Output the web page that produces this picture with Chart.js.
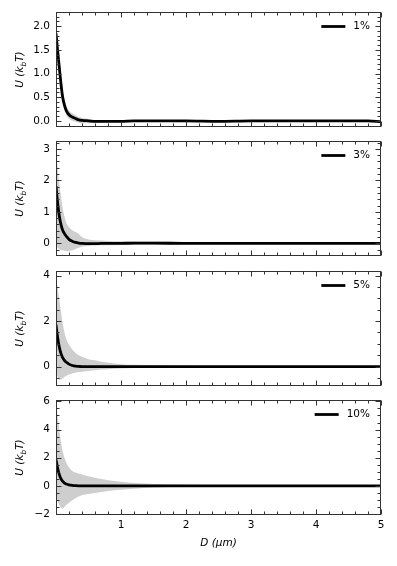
<!DOCTYPE html>
<html>
<head>
<meta charset="utf-8">
<script src="https://cdn.jsdelivr.net/npm/chart.js@4.4.1/dist/chart.umd.min.js"></script>
<style>
  html, body { margin: 0; padding: 0; background: #fff; }
  #wrap { position: relative; width: 397px; height: 566px; overflow: hidden; }
  #wrap canvas { position: absolute; left: 0; }
</style>
</head>
<body>
<div id="wrap"></div>
<script>
const distance = [0, 0.02, 0.04, 0.06, 0.08, 0.1, 0.13, 0.16, 0.2, 0.25, 0.3, 0.35, 0.4, 0.5, 0.6, 0.7, 0.8, 1.0, 1.2, 1.5, 2.0, 2.5, 3.0, 3.5, 4.0, 4.5, 4.8, 5.0];

const concentrations = ['1%', '3%', '5%', '10%'];

// 1%
const mean1  = [1.85, 1.55, 1.28, 1.00, 0.74, 0.52, 0.33, 0.21, 0.13, 0.08, 0.05, 0.02, 0.01, 0.0, -0.01, -0.01, -0.01, -0.01, 0.0, 0.0, 0.0, -0.01, 0.0, 0.0, 0.0, 0.0, 0.0, -0.02];
const upper1 = [2.0, 1.7, 1.43, 1.15, 0.89, 0.66, 0.45, 0.32, 0.22, 0.16, 0.12, 0.08, 0.06, 0.04, 0.02, 0.02, 0.01, 0.01, 0.01, 0.01, 0.01, 0.0, 0.01, 0.01, 0.01, 0.01, 0.02, 0.0];
const lower1 = [1.7, 1.4, 1.13, 0.85, 0.6, 0.4, 0.22, 0.12, 0.05, 0.0, -0.02, -0.04, -0.05, -0.05, -0.04, -0.04, -0.03, -0.02, -0.02, -0.01, -0.01, -0.02, -0.01, -0.01, -0.01, -0.01, -0.01, -0.03];

// 3%
const mean3  = [1.82, 1.38, 1.02, 0.76, 0.57, 0.43, 0.31, 0.22, 0.13, 0.07, 0.03, 0.01, 0.0, -0.01, -0.01, 0.0, 0.0, 0.0, 0.01, 0.01, 0.0, 0.0, 0.0, 0.0, 0.0, 0.0, 0.0, 0.0];
const upper3 = [2.9, 2.5, 2.1, 1.75, 1.45, 1.15, 0.85, 0.65, 0.52, 0.42, 0.36, 0.3, 0.2, 0.12, 0.1, 0.09, 0.08, 0.07, 0.06, 0.06, 0.04, 0.03, 0.02, 0.02, 0.02, 0.02, 0.02, 0.02];
const lower3 = [-0.05, -0.12, -0.17, -0.2, -0.21, -0.22, -0.23, -0.24, -0.24, -0.22, -0.18, -0.14, -0.11, -0.08, -0.07, -0.06, -0.06, -0.05, -0.04, -0.04, -0.03, -0.02, -0.02, -0.02, -0.02, -0.02, -0.02, -0.02];

// 5%
const mean5  = [1.84, 1.38, 1.02, 0.75, 0.55, 0.41, 0.28, 0.19, 0.11, 0.05, 0.02, 0.01, 0.0, 0.0, 0.0, 0.0, 0.0, 0.0, 0.0, 0.0, 0.0, 0.0, 0.0, 0.0, 0.0, 0.0, 0.0, 0.0];
const upper5 = [4.0, 3.55, 3.15, 2.75, 2.35, 1.95, 1.5, 1.2, 0.96, 0.75, 0.6, 0.5, 0.43, 0.33, 0.28, 0.22, 0.17, 0.11, 0.08, 0.06, 0.04, 0.03, 0.03, 0.02, 0.02, 0.02, 0.02, 0.02];
const lower5 = [-0.1, -0.4, -0.55, -0.58, -0.57, -0.52, -0.45, -0.4, -0.35, -0.3, -0.27, -0.24, -0.22, -0.19, -0.16, -0.13, -0.11, -0.08, -0.06, -0.05, -0.03, -0.03, -0.02, -0.02, -0.02, -0.02, -0.02, -0.02];

// 10%
const mean10  = [1.88, 1.38, 0.98, 0.69, 0.48, 0.33, 0.2, 0.13, 0.07, 0.03, 0.01, 0.0, 0.0, 0.0, 0.0, 0.0, 0.0, 0.0, 0.0, 0.0, 0.0, 0.0, 0.0, 0.0, 0.0, 0.0, 0.0, 0.0];
const upper10 = [6.05, 5.2, 4.4, 3.65, 3.0, 2.5, 2.0, 1.64, 1.3, 1.06, 0.95, 0.87, 0.8, 0.68, 0.58, 0.48, 0.4, 0.3, 0.2, 0.13, 0.08, 0.05, 0.04, 0.03, 0.03, 0.03, 0.02, 0.02];
const lower10 = [-0.4, -0.95, -1.25, -1.45, -1.57, -1.6, -1.5, -1.35, -1.2, -1.02, -0.88, -0.75, -0.67, -0.58, -0.5, -0.43, -0.37, -0.28, -0.2, -0.12, -0.07, -0.05, -0.04, -0.03, -0.03, -0.03, -0.02, -0.02];

// tick labels
const xTicks = [1, 2, 3, 4, 5];
const yTicks1 = [0, 0.5, 1, 1.5, 2];
const yTicks3 = [0, 1, 2, 3];
const yTicks5 = [0, 2, 4];
const yTicks10 = [-2, 0, 2, 4, 6];

const panels = [
  { label: concentrations[0], mean: mean1, upper: upper1, lower: lower1, ticks: yTicks1, min: -0.13, max: 2.3, minor: 0.1, dec: 1, top: 12 },
  { label: concentrations[1], mean: mean3, upper: upper3, lower: lower3, ticks: yTicks3, min: -0.4, max: 3.25, minor: 0.2, dec: 0, top: 141 },
  { label: concentrations[2], mean: mean5, upper: upper5, lower: lower5, ticks: yTicks5, min: -0.85, max: 4.2, minor: 0.5, dec: 0, top: 271 },
  { label: concentrations[3], mean: mean10, upper: upper10, lower: lower10, ticks: yTicks10, min: -2.07, max: 6.1, minor: 0.5, dec: 0, top: 400 }
];

const PANEL_H = 115, PAD_TOP = 8, XAXIS_H = 51;
const FONT = "'DejaVu Sans', sans-serif";
const FS = 10.5;

const frameTicks = {
  id: 'frameTicks',
  afterDatasetsDraw(chart, args, opts) {
    const { ctx, chartArea: a, scales: { x, y } } = chart;
    ctx.save();
    ctx.strokeStyle = '#333';
    ctx.lineWidth = 1;
    const L = Math.round(a.left) + 0.5, R = Math.round(a.right) - 0.5;
    const T = Math.round(a.top) + 0.5, B = Math.round(a.bottom) - 0.5;
    ctx.strokeRect(L, T, R - L, B - T);

    const tick = (px, len, vertical) => {
      px = Math.round(px) + 0.5;
      ctx.beginPath();
      if (vertical) {
        ctx.moveTo(px, T); ctx.lineTo(px, T + len);
        ctx.moveTo(px, B); ctx.lineTo(px, B - len);
      } else {
        ctx.moveTo(L, px); ctx.lineTo(L + len, px);
        ctx.moveTo(R, px); ctx.lineTo(R - len, px);
      }
      ctx.stroke();
    };
    // x ticks every 0.2, major every 1
    for (let k = 0; k <= 25; k++) {
      const v = k * 0.2;
      if (v > x.max + 1e-9) break;
      tick(x.getPixelForValue(v), k % 5 === 0 ? 5 : 3, true);
    }
    // y ticks
    const kmin = Math.ceil(y.min / opts.minor - 1e-9), kmax = Math.floor(y.max / opts.minor + 1e-9);
    for (let k = kmin; k <= kmax; k++) {
      const v = k * opts.minor;
      const major = opts.ticks.some(t => Math.abs(t - v) < 1e-6);
      tick(y.getPixelForValue(v), major ? 5 : 3, false);
    }

    // legend
    const ly = Math.round(a.top + 14) + 0.5;
    ctx.font = FS + 'px ' + FONT;
    ctx.fillStyle = '#000';
    ctx.textAlign = 'right';
    ctx.textBaseline = 'middle';
    const tx = a.right - 11;
    ctx.fillText(opts.label, tx, ly);
    const tw = ctx.measureText(opts.label).width;
    ctx.strokeStyle = '#000';
    ctx.lineWidth = 2.8;
    ctx.beginPath();
    ctx.moveTo(tx - tw - 32, ly);
    ctx.lineTo(tx - tw - 8, ly);
    ctx.stroke();

    // y title U (k_b T)
    ctx.save();
    ctx.translate(19, (a.top + a.bottom) / 2);
    ctx.rotate(-Math.PI / 2);
    ctx.textAlign = 'left';
    ctx.textBaseline = 'alphabetic';
    const big = 'italic ' + FS + 'px ' + FONT, small = 'italic ' + (FS * 0.7) + 'px ' + FONT;
    const parts = [['U (k', big, 0], ['b', small, 2.5], ['T)', big, 0]];
    let total = 0;
    parts.forEach(p => { ctx.font = p[1]; total += ctx.measureText(p[0]).width; });
    let cx = -total / 2;
    parts.forEach(p => { ctx.font = p[1]; ctx.fillText(p[0], cx, 4 + p[2]); cx += ctx.measureText(p[0]).width; });
    ctx.restore();

    if (opts.xTitle) {
      ctx.font = 'italic ' + FS + 'px ' + FONT;
      ctx.textAlign = 'center';
      ctx.textBaseline = 'middle';
      ctx.fillText(opts.xTitle, (a.left + a.right) / 2, a.bottom + 28);
    }
    ctx.restore();
  }
};

const wrap = document.getElementById('wrap');

panels.forEach((p, i) => {
  const last = i === panels.length - 1;
  const canvas = document.createElement('canvas');
  const h = PAD_TOP + PANEL_H + (last ? XAXIS_H : 0);
  canvas.width = 397;
  canvas.height = h;
  canvas.style.width = '397px';
  canvas.style.height = h + 'px';
  canvas.style.top = (p.top - PAD_TOP) + 'px';
  wrap.appendChild(canvas);

  const pts = arr => distance.map((d, j) => ({ x: d, y: arr[j] }));

  new Chart(canvas.getContext('2d'), {
    type: 'line',
    data: {
      datasets: [
        {
          label: p.label,
          data: pts(p.mean),
          borderColor: '#000',
          borderWidth: 2.8,
          pointRadius: 0,
          fill: false,
          cubicInterpolationMode: 'monotone'
        },
        {
          label: 'lower',
          data: pts(p.lower),
          borderWidth: 0,
          borderColor: 'rgba(0,0,0,0)',
          pointRadius: 0,
          fill: false,
          cubicInterpolationMode: 'monotone'
        },
        {
          label: 'upper',
          data: pts(p.upper),
          borderWidth: 0,
          borderColor: 'rgba(0,0,0,0)',
          backgroundColor: 'rgb(206,206,206)',
          pointRadius: 0,
          fill: 1,
          cubicInterpolationMode: 'monotone'
        }
      ]
    },
    options: {
      responsive: false,
      animation: false,
      devicePixelRatio: 1,
      layout: { padding: { left: 0, right: 16, top: PAD_TOP, bottom: 0 } },
      plugins: {
        legend: { display: false },
        tooltip: { enabled: false },
        frameTicks: { label: p.label, ticks: p.ticks, minor: p.minor, xTitle: last ? 'D (\u03bcm)' : null }
      },
      scales: {
        x: {
          type: 'linear',
          min: 0,
          max: 5,
          display: last,
          grid: { display: false, drawTicks: false },
          border: { display: false },
          ticks: { color: '#000', font: { family: FONT, size: FS }, padding: 4, maxRotation: 0 },
          afterBuildTicks: s => { s.ticks = xTicks.map(v => ({ value: v })); },
          afterFit: s => {
            s.height = last ? XAXIS_H : 0;
            s.paddingLeft = 0; s.paddingRight = 0; s.paddingTop = 0; s.paddingBottom = 0;
          }
        },
        y: {
          type: 'linear',
          min: p.min,
          max: p.max,
          grid: { display: false, drawTicks: false },
          border: { display: false },
          ticks: {
            color: '#000',
            font: { family: FONT, size: FS },
            padding: 6,
            callback: v => (v < 0 ? '\u2212' : '') + Math.abs(v).toFixed(p.dec)
          },
          afterBuildTicks: s => { s.ticks = p.ticks.map(v => ({ value: v })); },
          afterFit: s => {
            s.width = 56;
            s.paddingLeft = 0; s.paddingRight = 0; s.paddingTop = 0; s.paddingBottom = 0;
          }
        }
      }
    },
    plugins: [frameTicks]
  });
});
</script>
</body>
</html>
